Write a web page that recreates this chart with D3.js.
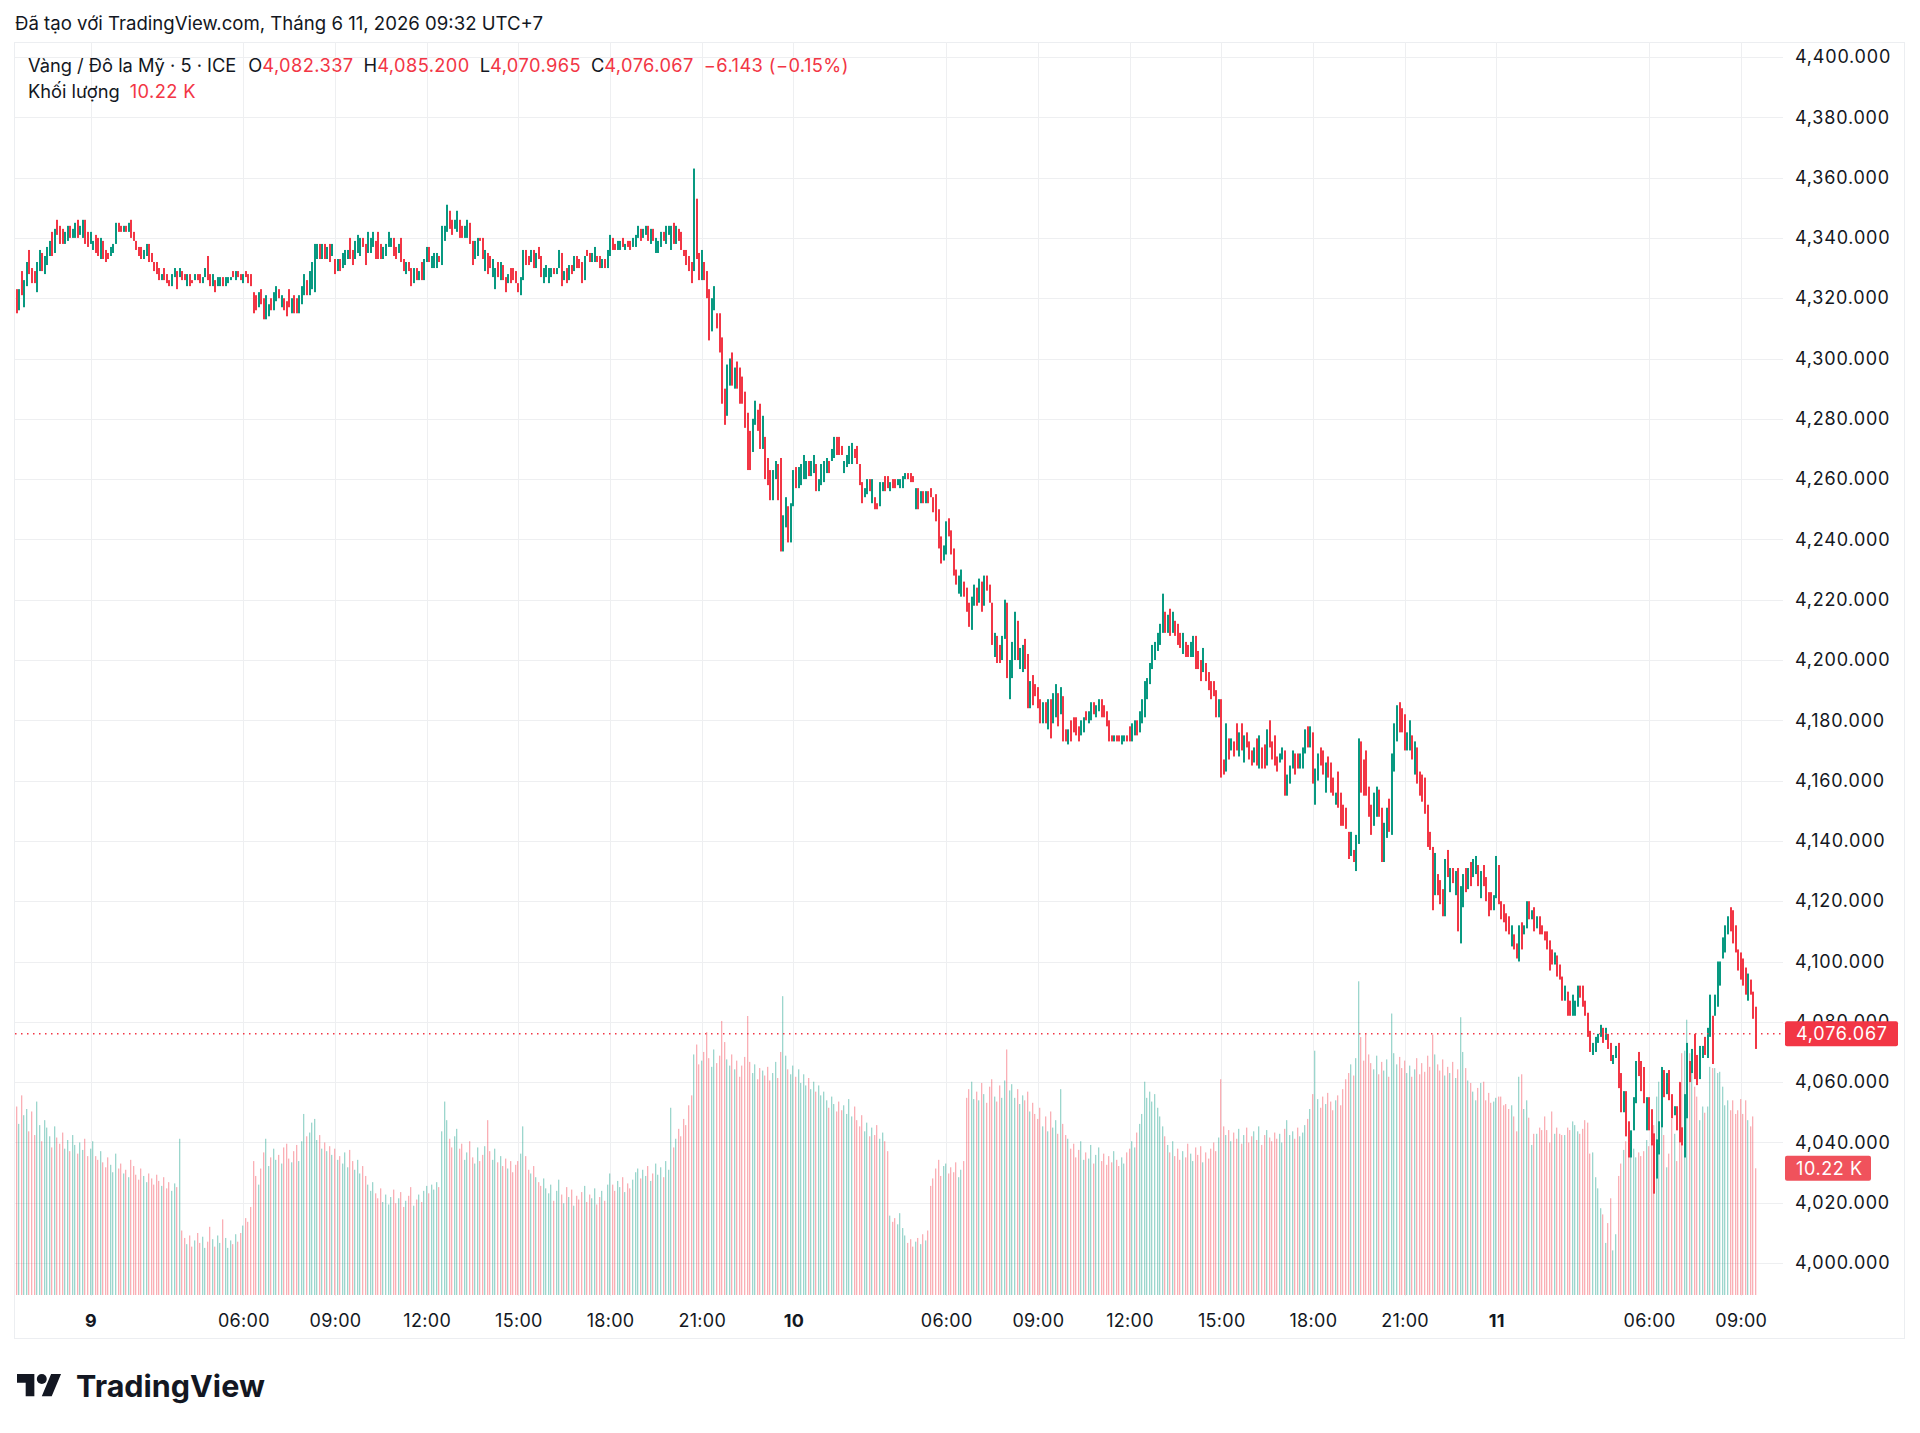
<!DOCTYPE html>
<html>
<head>
<meta charset="utf-8">
<script src="https://cdn.jsdelivr.net/npm/d3@7"></script>
<style>
  body { margin: 0; background: #fff; }
  svg { display: block; }
</style>
</head>
<body>
<svg id="chart" width="1920" height="1433"></svg>
<script>
// XAU/USD 5 min bars (each hour on one line)
var opens = [
  // 8 Jun 21:35 - 23:55
  4323,4316,4329,4317,4324,4336,4330,4329,4322,4329,4335,4328,4331,4334,4342,4335,4346,4344,4343,4338,4339,4344,4340,4340,4346,4341,4340,4346,4342,
  // 9 Jun
  4338,4336,4341,4340,4333,4339,4336,4335,4334,4335,4338,4345,
  4344,4342,4344,4342,4346,4342,4339,4337,4337,4333,4334,4338,
  4335,4332,4332,4330,4326,4330,4328,4326,4324,4327,4329,4327,
  4329,4328,4324,4328,4326,4326,4328,4328,4325,4327,4334,4328,
  4324,4326,4324,4324,4327,4324,4325,4326,4329,4326,4329,4328,
  4325,4329,4328,4328,4322,4321,4317,4323,4320,4313,4314,4320,
  4316,4319,4323,4317,4320,4319,4323,4315,4321,4320,4315,4318,
  4321,4326,4321,4323,4322,4333,4338,4333,4338,4333,4338,4334,
  4333,4329,4333,4330,4331,4333,4340,4336,4333,4335,4334,4340,
  4338,4335,4335,4337,4339,4342,4338,4333,4334,4337,4337,4340,
  4337,4335,4340,4333,4328,4332,4330,4325,4330,4326,4332,4326,
  4332,4337,4330,4330,4330,4334,4331,4339,4342,4349,4346,4343,
  4342,4346,4344,4340,4340,4345,4339,4333,4334,4340,4340,4329,
  4335,4334,4327,4323,4332,4326,4331,4327,4325,4330,4330,4329,
  4325,4321,4326,4336,4334,4332,4336,4330,4337,4334,4325,4327,
  4325,4327,4330,4328,4330,4335,4326,4330,4326,4331,4329,4334,
  4333,4332,4326,4336,4335,4332,4332,4334,4334,4330,4333,4330,
  4334,4340,4338,4336,4336,4340,4336,4339,4339,4337,4337,4340,
  4343,4340,4341,4344,4338,4343,4335,4335,4337,4342,4338,4341,
  4336,4345,4338,4343,4342,4336,4336,4334,4332,4329,4353,4335,
  4326,4332,4329,4323,4309,4316,4315,4315,4307,4290,4281,4291,
  4302,4290,4299,4297,4294,4289,4282,4276,4269,4278,4283,4285,
  4270,4274,4267,4263,4253,4260,4265,4267,4236,4244,4251,4239,
  // 10 Jun
  4251,4264,4257,4258,4260,4260,4266,4261,4262,4265,4256,4258,
  4259,4262,4266,4266,4267,4274,4274,4271,4262,4264,4265,4265,
  4270,4271,4265,4259,4254,4255,4260,4252,4254,4252,4251,4256,
  4261,4261,4256,4260,4260,4258,4257,4257,4260,4262,4262,4261,
  4250,4257,4252,4256,4252,4256,4257,4254,4255,4250,4241,4233,
  4235,4247,4243,4237,4230,4222,4221,4226,4224,4219,4210,4218,
  4224,4219,4226,4218,4228,4225,4219,4201,4208,4205,4200,4207,
  4219,4187,4194,4200,4213,4197,4196,4207,4202,4184,4195,4192,
  4191,4187,4179,4186,4177,4187,4179,4181,4189,4182,4188,4177,
  4172,4180,4181,4181,4178,4175,4176,4183,4179,4180,4186,4181,
  4183,4187,4185,4183,4180,4175,4173,4175,4175,4172,4173,4175,
  4178,4173,4175,4180,4176,4179,4181,4187,4192,4197,4200,4203,
  4205,4209,4216,4209,4217,4209,4213,4212,4209,4202,4206,4205,
  4201,4201,4208,4203,4200,4196,4199,4196,4193,4193,4190,4181,
  4187,4167,4163,4174,4170,4173,4179,4168,4179,4166,4176,4173,
  4170,4166,4174,4164,4171,4172,4165,4180,4173,4175,4168,4166,
  4167,4170,4155,4159,4164,4169,4169,4164,4164,4169,4178,4171,
  4176,4152,4160,4171,4170,4156,4168,4166,4161,4152,4163,4156,
  4152,4151,4143,4135,4137,4130,4139,4173,4167,4170,4158,4152,
  4145,4148,4157,4151,4133,4141,4154,4142,4163,4173,4186,4184,
  4182,4170,4170,4175,4162,4171,4163,4162,4161,4152,4143,4138,
  4122,4129,4127,4124,4115,4137,4123,4131,4122,4131,4106,4118,
  4131,4124,4133,4128,4129,4132,4121,4132,4128,4123,4123,4117,
  // 11 Jun
  4121,4132,4120,4119,4116,4115,4105,4109,4106,4100,4113,4109,
  4111,4120,4114,4118,4111,4115,4112,4110,4110,4107,4104,4099,
  4102,4099,4095,4087,4090,4087,4082,4082,4085,4092,4092,4087,
  4083,4077,4069,4070,4073,4075,4078,4074,4076,4073,4066,4068,
  4073,4063,4050,4057,4047,4035,4044,4053,4070,4067,4065,4044,
  4055,4051,4043,4028,4036,4045,4064,4056,4064,4056,4049,4052,
  4060,4045,4035,4048,4067,4063,4076,4069,4061,4068,4075,4068,
  4075,4082,4082,4085,4092,4101,4103,4109,4118,4117,4112,4104,
  4103,4101,4098,4087,4094,4090,4085
];
var closes = [
  4315,4323,4321,4326,4332,4328,4325,4325,4332,4336,4329,4334,4337,4339,4334,4343,4341,4338,4338,4342,4344,4340,4343,4345,4340,4344,4346,4338,4337,
  4342,4339,4335,4334,4340,4333,4332,4333,4337,4338,4345,4342,
  4342,4344,4342,4345,4340,4339,4336,4334,4333,4336,4338,4332,
  4332,4329,4328,4326,4328,4326,4325,4324,4328,4330,4323,4330,
  4326,4326,4328,4324,4325,4328,4326,4325,4327,4330,4326,4324,
  4328,4322,4327,4327,4324,4327,4327,4327,4327,4329,4327,4326,
  4328,4327,4325,4324,4315,4316,4322,4318,4313,4321,4318,4316,
  4322,4324,4320,4321,4316,4314,4317,4320,4315,4315,4321,4324,
  4328,4321,4329,4332,4338,4338,4333,4338,4333,4337,4332,4338,
  4328,4333,4329,4335,4336,4336,4333,4331,4339,4341,4340,4337,
  4331,4342,4340,4342,4333,4333,4333,4337,4338,4342,4340,4334,
  4333,4338,4332,4329,4332,4329,4324,4330,4326,4329,4326,4333,
  4337,4332,4334,4335,4335,4332,4344,4344,4351,4343,4341,4346,
  4349,4340,4340,4344,4346,4338,4331,4339,4340,4339,4333,4336,
  4328,4330,4333,4330,4327,4332,4326,4322,4328,4325,4326,4325,
  4322,4327,4336,4331,4331,4336,4330,4335,4333,4327,4330,4331,
  4330,4330,4328,4330,4336,4324,4329,4325,4331,4328,4334,4330,
  4330,4325,4334,4334,4332,4335,4337,4332,4330,4333,4330,4336,
  4341,4336,4336,4339,4339,4337,4338,4337,4336,4340,4341,4344,
  4339,4343,4344,4339,4343,4339,4340,4339,4342,4339,4344,4344,
  4344,4338,4344,4339,4336,4334,4331,4329,4325,4363,4333,4326,
  4336,4326,4320,4306,4320,4324,4310,4302,4285,4278,4298,4300,
  4291,4297,4290,4285,4285,4277,4263,4263,4280,4286,4276,4270,
  4281,4260,4258,4253,4263,4266,4253,4236,4248,4254,4239,4252,
  4263,4257,4264,4265,4268,4266,4261,4266,4268,4256,4260,4265,
  4266,4267,4262,4270,4274,4268,4268,4268,4266,4268,4271,4272,
  4267,4265,4258,4252,4257,4260,4256,4260,4250,4250,4259,4259,
  4256,4257,4259,4257,4257,4260,4260,4261,4262,4260,4259,4259,
  4257,4250,4256,4252,4256,4252,4254,4249,4246,4237,4232,4238,
  4246,4241,4235,4228,4225,4228,4230,4221,4216,4211,4221,4225,
  4218,4227,4216,4228,4223,4219,4205,4209,4199,4199,4208,4220,
  4194,4200,4206,4216,4200,4204,4205,4197,4184,4193,4185,4188,
  4184,4179,4186,4179,4187,4174,4189,4192,4178,4191,4173,4173,
  4177,4173,4176,4175,4173,4180,4181,4180,4183,4186,4182,4185,
  4187,4181,4181,4178,4173,4173,4175,4173,4173,4175,4175,4173,
  4173,4179,4180,4175,4183,4187,4193,4194,4199,4205,4206,4209,
  4212,4222,4209,4215,4208,4216,4208,4205,4204,4209,4201,4201,
  4206,4208,4197,4197,4193,4204,4193,4190,4187,4188,4181,4187,
  4161,4162,4179,4167,4174,4168,4170,4176,4170,4175,4171,4167,
  4165,4171,4165,4175,4164,4164,4177,4171,4167,4165,4163,4169,
  4171,4155,4162,4165,4170,4162,4164,4169,4171,4177,4171,4178,
  4159,4164,4169,4165,4162,4166,4161,4156,4155,4156,4151,4145,
  4145,4144,4134,4143,4133,4142,4174,4156,4155,4155,4148,4142,
  4156,4158,4148,4133,4146,4151,4143,4169,4179,4185,4176,4176,
  4170,4176,4180,4167,4173,4159,4155,4153,4149,4138,4137,4117,
  4136,4122,4119,4115,4134,4128,4131,4126,4130,4110,4125,4129,
  4123,4131,4125,4134,4135,4125,4130,4125,4120,4115,4117,4122,
  4135,4119,4114,4113,4110,4109,4112,4104,4101,4112,4104,4112,
  4120,4114,4117,4110,4115,4109,4109,4107,4104,4097,4099,4103,
  4095,4094,4087,4092,4082,4082,4089,4087,4092,4088,4085,4082,
  4075,4070,4073,4075,4076,4079,4073,4078,4071,4067,4069,4072,
  4058,4050,4057,4042,4035,4044,4055,4067,4062,4057,4053,4055,
  4044,4039,4023,4041,4047,4065,4055,4063,4054,4048,4052,4044,
  4040,4039,4056,4073,4060,4071,4061,4059,4072,4072,4069,4078,
  4089,4066,4089,4100,4100,4108,4112,4115,4110,4106,4103,4097,
  4094,4092,4089,4096,4089,4081,4071
];
// volume in thousands
var volumes = [
  15.2,13.8,16.1,14.5,15.0,13.2,14.8,12.9,15.6,13.7,12.4,14.1,13.5,12.8,11.9,13.6,12.7,12.2,13.1,11.8,12.5,11.6,12.9,12.1,11.4,12.3,11.7,12.6,11.2,
  11.8,12.4,11.2,10.9,11.6,10.7,10.3,11.1,10.5,9.9,11.4,10.2,
  10.6,9.8,10.1,9.5,10.9,10.4,9.7,9.3,10.2,9.6,9.1,9.8,
  9.4,8.9,9.7,9.2,8.8,9.5,8.6,9.1,8.4,9.0,8.7,12.6,
  5.2,4.6,4.1,4.8,3.9,4.4,5.0,4.2,4.7,3.8,4.3,5.5,
  4.5,3.9,4.8,4.2,6.1,4.6,3.8,4.4,4.1,4.9,4.3,5.0,
  5.6,6.2,5.9,7.1,10.8,9.6,8.9,10.2,11.5,12.6,10.4,11.1,
  11.8,10.9,11.3,10.6,11.9,12.2,11.0,10.7,11.6,12.1,10.8,12.4,
  14.6,12.8,13.1,13.9,14.2,12.5,12.9,11.8,12.3,11.6,12.0,11.3,
  11.8,10.9,11.2,10.6,11.5,10.3,11.7,10.8,10.1,10.9,9.8,10.4,
  9.6,8.9,8.4,9.1,8.2,7.8,8.6,7.5,8.1,7.3,7.9,8.5,
  7.4,7.8,8.3,7.1,7.6,8.0,8.7,7.2,7.7,8.1,7.5,8.4,
  8.8,8.2,8.9,8.5,9.1,8.7,13.2,15.6,14.1,12.6,11.9,12.8,
  13.4,11.8,12.2,10.9,11.5,12.4,11.1,10.6,11.9,10.8,11.3,12.0,
  14.1,11.6,10.9,11.8,10.7,11.2,10.4,11.0,10.2,10.8,9.9,10.5,
  10.8,11.4,13.6,11.2,10.1,9.8,10.4,9.5,9.1,8.8,9.4,8.6,
  8.2,8.9,7.6,8.4,9.3,8.1,7.4,8.7,7.9,8.5,7.2,8.0,
  7.7,8.3,8.8,7.5,8.1,7.8,8.6,7.3,7.9,8.4,7.6,8.9,
  9.8,8.9,8.4,9.2,8.7,9.5,8.3,9.0,8.6,9.3,9.9,10.2,
  9.4,10.1,9.6,10.4,9.2,9.8,10.6,9.7,10.3,9.5,10.8,10.1,
  15.1,11.9,12.6,13.4,12.8,14.2,13.7,15.3,16.1,19.4,20.2,18.6,
  18.9,19.6,21.2,19.1,18.4,19.8,18.7,19.3,22.1,20.4,19.0,18.5,
  19.4,18.2,18.9,17.6,18.5,19.2,22.5,18.8,17.9,18.6,17.4,18.3,
  18.1,17.7,18.4,17.3,17.9,18.8,17.5,19.6,24.1,19.3,18.2,17.8,
  18.5,17.6,18.2,17.1,17.8,16.9,17.5,16.6,17.2,16.4,16.9,16.1,
  16.4,15.7,15.1,16.0,15.4,14.8,15.6,14.9,15.3,14.6,15.8,14.4,
  15.2,14.1,13.6,14.5,13.2,13.9,12.8,13.5,12.9,13.7,12.6,13.1,
  12.4,11.6,6.4,5.9,6.2,5.7,6.6,5.4,4.8,4.2,4.5,3.9,
  4.3,4.6,4.1,4.9,4.4,5.2,8.8,9.4,10.2,10.9,9.6,10.4,
  10.6,9.8,10.3,9.9,10.7,9.5,10.1,10.8,15.9,16.6,17.2,15.8,
  16.4,15.7,17.1,16.2,15.5,16.8,17.4,16.0,15.6,16.9,15.9,17.3,
  19.8,16.5,17.0,15.9,16.6,15.4,16.1,15.7,16.4,14.8,15.5,14.6,
  14.2,15.1,13.6,14.4,13.2,14.8,13.5,14.1,13.0,16.6,13.8,12.9,
  12.6,11.8,12.2,11.1,11.7,12.4,10.9,11.5,11.0,12.1,10.6,11.3,
  11.9,10.8,11.4,10.5,11.2,10.7,11.6,10.9,10.4,11.1,10.6,11.5,
  11.8,12.4,11.9,13.1,13.8,14.6,17.2,15.9,16.4,15.6,16.2,15.1,
  14.4,13.6,12.8,12.1,11.5,12.4,11.2,11.8,10.9,11.6,11.1,12.2,
  11.4,10.8,11.9,11.3,12.0,10.7,11.5,11.0,11.8,12.3,11.6,12.7,
  17.4,13.6,12.9,13.3,12.4,13.1,12.6,13.4,12.2,12.9,13.5,12.3,
  12.8,13.2,12.5,13.6,12.1,12.9,13.3,12.7,12.4,13.1,12.6,13.0,
  12.3,13.4,14.1,12.9,13.2,12.6,13.5,12.8,13.1,13.7,14.2,15.0,
  16.2,19.7,15.8,15.1,16.0,15.4,16.3,15.6,14.9,15.7,16.1,15.3,
  16.6,17.4,17.9,18.6,17.7,19.1,25.3,20.8,18.9,21.1,19.4,18.7,
  18.2,19.3,17.8,18.8,18.1,19.0,17.6,22.7,19.5,18.6,19.2,18.3,
  18.9,17.9,18.5,17.6,18.2,19.1,17.8,18.7,18.0,19.3,18.4,21.0,
  19.4,18.6,18.1,19.0,17.7,18.4,17.9,18.8,17.5,18.2,22.4,19.6,
  18.3,17.3,17.1,16.4,15.7,16.7,17.1,17.2,15.7,16.3,15.5,15.6,
  15.9,16.0,16.0,15.3,15.4,15.0,15.3,14.4,13.2,17.6,17.8,15.0,
  15.7,14.3,12.1,13.0,13.0,13.5,13.3,14.4,13.3,12.3,14.8,13.0,
  13.5,13.0,12.9,12.9,13.5,13.3,14.0,13.7,13.2,13.0,13.4,14.1,
  13.9,11.4,11.5,9.5,8.6,7.0,6.5,4.2,5.8,7.8,3.6,4.9,
  9.6,10.6,11.7,12.4,12.6,11.4,11.8,11.1,11.5,11.2,11.6,12.5,
  12.0,12.9,13.7,16.0,17.2,18.4,12.9,10.3,11.4,14.2,13.0,10.8,
  17.2,19.5,19.7,22.2,19.5,19.0,16.8,16.0,14.1,15.2,14.7,15.2,
  18.4,18.3,18.3,17.9,18.0,16.8,15.3,15.7,14.9,15.7,14.6,14.9,
  15.8,14.6,15.7,14.1,13.6,14.4,10.22
];

var priceTicks = d3.range(4000, 4401, 20);
var tickHours = [0, 6, 9, 12, 15, 18, 21];
var legendKeys = ["O", "H", "L", "C"];
var legendVals = [4082.337, 4085.200, 4070.965, 4076.067];
var lastPrice = 4076.067, change = -6.143, changePct = -0.15;
var lastVolume = 10.22;

var RED = "#F23645", GREEN = "#089981", INK = "#131722", GRID = "#eeeff1";
var FONT = "Inter, 'Noto Sans', sans-serif";

var svg = d3.select("#chart").attr("font-family", FONT);
svg.append("rect").attr("width", 1920).attr("height", 1433).attr("fill", "#fff");

// 5 min sessions, market shut 04:00-05:00 (UTC+7)
var n = closes.length;
var times = [];
var day = 8, hr = 21, mn = 35;
while (times.length < n) {
  times.push({day: day, hour: hr, min: mn});
  mn += 5;
  if (mn == 60) { mn = 0; hr++; }
  if (hr == 24) { hr = 0; day++; }
  if (hr == 4) hr = 5;
}
var tickIdx = [];
times.forEach(function(t, i){
  if (t.min == 0 && tickHours.indexOf(t.hour) >= 0) tickIdx.push(i);
});
var tickLabel = function(i){
  var t = times[i];
  return t.hour == 0 ? String(t.day) : d3.format("02")(t.hour) + ":00";
};

var plot = {left: 15, right: 1783, top: 42, bottom: 1296};
var step = 2.5466;
var x = d3.scaleLinear().domain([0, n - 1]).range([16.7, 16.7 + (n - 1) * step]);
var y = d3.scaleLinear().domain([4000, 4400]).range([1263, 57]);
var vy = d3.scaleLinear().domain([0, 25]).range([1295, 985]);

// frame
svg.append("rect")
  .attr("x", 14.5).attr("y", 42.5).attr("width", 1890).attr("height", 1296)
  .attr("fill", "none").attr("stroke", "#eceef1");

// grid
var grid = svg.append("g").attr("class", "grid");
grid.selectAll(".hgrid").data(priceTicks).enter().append("line")
  .attr("x1", plot.left).attr("x2", plot.right)
  .attr("y1", function(d){ return Math.round(y(d)) + 0.5; })
  .attr("y2", function(d){ return Math.round(y(d)) + 0.5; })
  .attr("stroke", GRID);
grid.selectAll(".vgrid").data(tickIdx).enter().append("line")
  .attr("x1", function(d){ return Math.round(x(d)) + 0.5; })
  .attr("x2", function(d){ return Math.round(x(d)) + 0.5; })
  .attr("y1", plot.top).attr("y2", plot.bottom)
  .attr("stroke", GRID);

var idx = d3.range(n);
var isUp = function(i){ return closes[i] >= opens[i]; };

// volume
svg.append("g").attr("class", "volume").selectAll("rect").data(idx).enter().append("rect")
  .attr("x", function(i){ return Math.round(x(i)) - 1; })
  .attr("width", 1.3)
  .attr("y", function(i){ return vy(volumes[i]); })
  .attr("height", function(i){ return vy(0) - vy(volumes[i]); })
  .attr("fill", function(i){ return isUp(i) ? "rgba(8,153,129,0.4)" : "rgba(242,54,69,0.4)"; });

// candles
svg.append("g").attr("class", "candles").selectAll("rect").data(idx).enter().append("rect")
  .attr("x", function(i){ return Math.round(x(i)) - 1; })
  .attr("width", 2)
  .attr("y", function(i){ return y(Math.max(opens[i], closes[i])); })
  .attr("height", function(i){ return Math.max(1, Math.abs(y(opens[i]) - y(closes[i]))); })
  .attr("fill", function(i){ return isUp(i) ? GREEN : RED; });

// last price line
svg.append("line")
  .attr("x1", plot.left).attr("x2", 1785)
  .attr("y1", y(lastPrice)).attr("y2", y(lastPrice))
  .attr("stroke", RED).attr("stroke-width", 1.5).attr("stroke-dasharray", "1.5,4.5");

// price scale
var yAxis = svg.append("g").attr("transform", "translate(1795,0)")
  .call(d3.axisRight(y).tickValues(priceTicks).tickSize(0).tickPadding(0).tickFormat(d3.format(",.3f")))
  .attr("font-family", FONT).attr("font-size", 18).attr("letter-spacing", 0.8).style("color", INK);
yAxis.select(".domain").remove();

// time scale
var xAxis = svg.append("g").attr("transform", "translate(0," + plot.bottom + ")")
  .call(d3.axisBottom(x).tickValues(tickIdx).tickSize(0).tickPadding(18).tickFormat(tickLabel))
  .attr("font-family", FONT).attr("font-size", 18).attr("letter-spacing", 0.3).style("color", INK);
xAxis.select(".domain").remove();
xAxis.selectAll("text").attr("font-weight", function(i){ return times[i].hour == 0 ? 700 : 400; });

// price and volume tags
var fmt3 = d3.format(",.3f");
svg.append("rect").attr("x", 1785).attr("y", y(lastPrice) - 12.5).attr("width", 113).attr("height", 25)
  .attr("rx", 2).attr("fill", RED);
svg.append("text").attr("x", 1796).attr("y", y(lastPrice)).attr("dy", "0.35em")
  .attr("font-size", 18).attr("letter-spacing", 0.8).attr("fill", "#fff").text(fmt3(lastPrice));
svg.append("rect").attr("x", 1785).attr("y", vy(lastVolume) - 12.5).attr("width", 86).attr("height", 25)
  .attr("rx", 2).attr("fill", "#f0525c");
svg.append("text").attr("x", 1796).attr("y", vy(lastVolume)).attr("dy", "0.35em")
  .attr("font-size", 18).attr("letter-spacing", 0.6).attr("fill", "#fff").text(d3.format(".2f")(lastVolume) + " K");

// header
svg.append("text").attr("x", 15).attr("y", 23).attr("dy", "0.35em")
  .attr("font-size", 18.6).attr("fill", INK)
  .text("Đã tạo với TradingView.com, Tháng 6 11, 2026 09:32 UTC+7");

// legend
var leg = svg.append("text").attr("x", 28).attr("y", 66).attr("dy", "0.35em")
  .attr("font-size", 18.3).attr("fill", INK);
leg.append("tspan").text("Vàng / Đô la Mỹ · 5 · ICE");
legendKeys.forEach(function(k, i){
  leg.append("tspan").attr("dx", i == 0 ? 12 : 10).text(k);
  leg.append("tspan").style("fill", RED).attr("letter-spacing", 0.4).text(fmt3(legendVals[i]));
});
leg.append("tspan").attr("dx", 10).style("fill", RED).attr("letter-spacing", 0.4)
  .text(d3.format(".3f")(change) + " (" + d3.format(".2f")(changePct) + "%)");

var leg2 = svg.append("text").attr("x", 28).attr("y", 92).attr("dy", "0.35em")
  .attr("font-size", 18.3).attr("fill", INK);
leg2.append("tspan").text("Khối lượng");
leg2.append("tspan").attr("dx", 10).style("fill", RED).attr("letter-spacing", 0.4)
  .text(d3.format(".2f")(lastVolume) + " K");

// logo
var logo = svg.append("g").attr("transform", "translate(17,1369) scale(1.24)").attr("fill", INK);
logo.append("path").attr("d", "M14 22H7V11H0V4h14v18zM28 22h-8l7.5-18h8L28 22z");
logo.append("circle").attr("cx", 20).attr("cy", 8).attr("r", 4);
svg.append("text").attr("x", 76).attr("y", 1386).attr("dy", "0.35em")
  .attr("font-size", 30.5).attr("font-weight", 700).attr("fill", INK)
  .text("TradingView");
</script>
</body>
</html>
